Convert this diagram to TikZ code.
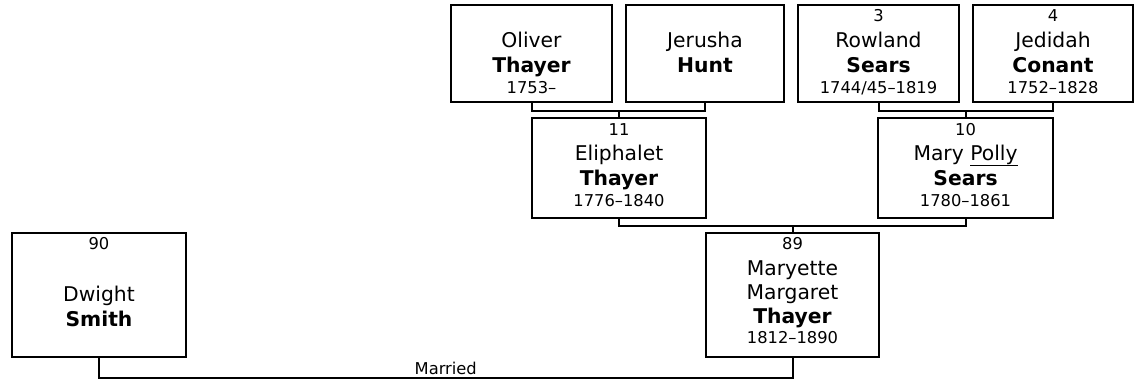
\documentclass[tikz,border=0pt]{standalone}
\usepackage{fontspec}
\setmainfont{DejaVu Sans}
\usetikzlibrary{calc}
\begin{document}
\begin{tikzpicture}[x=1pt,y=-1pt,
  person/.style={draw, line width=2pt, inner sep=0pt, outer sep=0pt, anchor=north west},
  big/.style={font=\fontsize{20.3}{24}\selectfont, anchor=base, inner sep=0pt},
  small/.style={font=\fontsize{16.3}{19}\selectfont, anchor=base, inner sep=0pt},
  link/.style={draw, line width=2pt}]
\useasboundingbox (0,0) rectangle (1139,383);

% boxes
\node[person, minimum width=161pt, minimum height=97pt] (oliver) at (451,5) {};
\node[person, minimum width=158pt, minimum height=97pt] (jerusha) at (626,5) {};
\node[person, minimum width=161pt, minimum height=97pt] (rowland) at (798,5) {};
\node[person, minimum width=160pt, minimum height=97pt] (jedidah) at (973,5) {};
\node[person, minimum width=174pt, minimum height=100pt] (eliphalet) at (532,118) {};
\node[person, minimum width=175pt, minimum height=100pt] (mary) at (878,118) {};
\node[person, minimum width=173pt, minimum height=124pt] (maryette) at (706,233) {};
\node[person, minimum width=174pt, minimum height=124pt] (dwight) at (12,233) {};

% texts: Oliver
\node[big] (oliver-f) at ($(oliver.north)+(0,42)$) {Oliver};
\node[big] (oliver-l) at ($(oliver.north)+(0,67)$) {\textbf{Thayer}};
\node[small] (oliver-y) at ($(oliver.north)+(0,88)$) {1753\textendash};
% Jerusha
\node[big] (jerusha-f) at ($(jerusha.north)+(0,42)$) {Jerusha};
\node[big] (jerusha-l) at ($(jerusha.north)+(0,67)$) {\textbf{Hunt}};
% Rowland
\node[small] (rowland-n) at ($(rowland.north)+(0,16)$) {3};
\node[big] (rowland-f) at ($(rowland.north)+(0,42)$) {Rowland};
\node[big] (rowland-l) at ($(rowland.north)+(0,67)$) {\textbf{Sears}};
\node[small] (rowland-y) at ($(rowland.north)+(0,88)$) {1744/45\textendash1819};
% Jedidah
\node[small] (jedidah-n) at ($(jedidah.north)+(0,16)$) {4};
\node[big] (jedidah-f) at ($(jedidah.north)+(0,42)$) {Jedidah};
\node[big] (jedidah-l) at ($(jedidah.north)+(0,67)$) {\textbf{Conant}};
\node[small] (jedidah-y) at ($(jedidah.north)+(0,88)$) {1752\textendash1828};
% Eliphalet
\node[small] (eliphalet-n) at ($(eliphalet.north)+(0,17)$) {11};
\node[big] (eliphalet-f) at ($(eliphalet.north)+(0,42)$) {Eliphalet};
\node[big] (eliphalet-l) at ($(eliphalet.north)+(0,67)$) {\textbf{Thayer}};
\node[small] (eliphalet-y) at ($(eliphalet.north)+(0,88)$) {1776\textendash1840};
% Mary Polly
\node[small] (mary-n) at ($(mary.north)+(0,17)$) {10};
\node[big] (mary-f) at ($(mary.north)+(0,42)$) {Mary \underline{Polly}};
\node[big] (mary-l) at ($(mary.north)+(0,67)$) {\textbf{Sears}};
\node[small] (mary-y) at ($(mary.north)+(0,88)$) {1780\textendash1861};
% Maryette
\node[small] (maryette-n) at ($(maryette.north)+(0,16)$) {89};
\node[big] (maryette-f) at ($(maryette.north)+(0,42)$) {Maryette};
\node[big] (maryette-m) at ($(maryette.north)+(0,66)$) {Margaret};
\node[big] (maryette-l) at ($(maryette.north)+(0,90)$) {\textbf{Thayer}};
\node[small] (maryette-y) at ($(maryette.north)+(0,110)$) {1812\textendash1890};
% Dwight
\node[small] (dwight-n) at ($(dwight.north)+(0,16)$) {90};
\node[big] (dwight-f) at ($(dwight.north)+(0,68)$) {Dwight};
\node[big] (dwight-l) at ($(dwight.north)+(0,93)$) {\textbf{Smith}};

% connectors
\coordinate (p1) at ($(oliver.south)!0.5!(jerusha.south)+(0,9)$);
\draw[link] (oliver.south) |- (p1) -| (jerusha.south);
\draw[link] (eliphalet.north) -- (eliphalet.north |- p1);
\coordinate (p2) at ($(rowland.south)!0.5!(jedidah.south)+(0,9)$);
\draw[link] (rowland.south) |- (p2) -| (jedidah.south);
\draw[link] (mary.north) -- (mary.north |- p2);
\coordinate (p3) at ($(eliphalet.south)!0.5!(mary.south)+(0,8)$);
\draw[link] (eliphalet.south) |- (p3) -| (mary.south);
\draw[link] (maryette.north) -- (maryette.north |- p3);
\draw[link] (dwight.south) -- ++(0,21) -| (maryette.south)
  node[pos=0.25, small, yshift=3.5pt] (married) {Married};
\end{tikzpicture}
\end{document}
